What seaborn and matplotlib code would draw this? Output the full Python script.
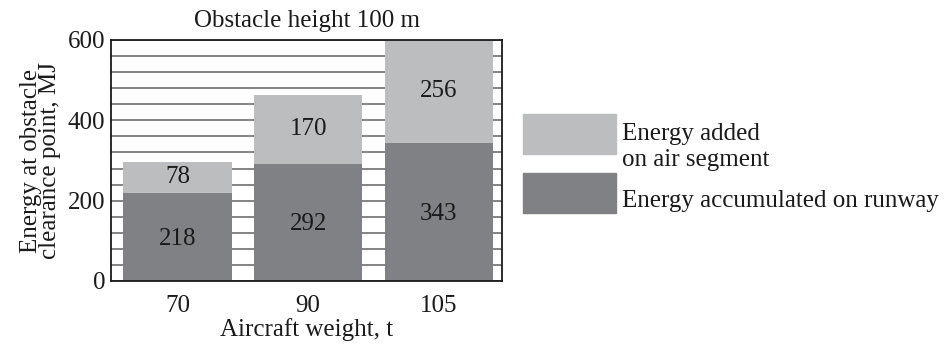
import matplotlib
matplotlib.use("Agg")
import matplotlib.pyplot as plt
import matplotlib.patches as mpatches
from matplotlib.legend_handler import HandlerPatch
import seaborn as sns
import pandas as pd

# --- Data ---
weights = ["70", "90", "105"]
runway_energy = [218, 292, 343]
air_energy = [78, 170, 256]

df = pd.DataFrame({"weight": weights, "runway": runway_energy, "air": air_energy})
df["total"] = df["runway"] + df["air"]

light = "#bcbdbf"
dark = "#808184"
ink = "#1a1a1a"
fs = 18

sns.set_style("white")
plt.rcParams["font.family"] = "Liberation Serif"

fig = plt.figure(figsize=(9.46, 3.46), dpi=100)
ax = fig.add_axes([0.1173, 0.1879, 0.4134, 0.6965])

# gridlines every 40 MJ behind bars
ax.set_axisbelow(True)
ax.yaxis.set_minor_locator(plt.MultipleLocator(40))
ax.grid(axis="y", which="both", color="#7a7a7a", linewidth=1.3)

sns.barplot(data=df, x="weight", y="total", color=light, width=0.83,
            saturation=1, linewidth=0, ax=ax, order=weights)
sns.barplot(data=df, x="weight", y="runway", color=dark, width=0.83,
            saturation=1, linewidth=0, ax=ax, order=weights)

# --- Value labels ---
for i, row in df.iterrows():
    ax.text(i, row["runway"] / 2 - 4, str(row["runway"]), ha="center", va="center",
            fontsize=fs, color=ink)
    ax.text(i, row["runway"] + row["air"] / 2 + 2, str(row["air"]), ha="center",
            va="center", fontsize=fs, color=ink)

ax.set_ylim(0, 600)
ax.set_xlim(-0.51, 2.485)
ax.set_yticks([0, 200, 400, 600])
ax.tick_params(axis="y", which="both", length=0, labelsize=fs, colors=ink, pad=4)
ax.tick_params(axis="x", which="both", length=0, labelsize=fs, colors=ink, pad=10)
ax.set_xlabel("Aircraft weight, t", fontsize=fs, color=ink, labelpad=1)
ax.set_ylabel("Energy at obstacle\nclearance point, MJ", fontsize=fs, color=ink,
              labelpad=5, linespacing=0.85)
ax.set_title("Obstacle height 100 m", fontsize=fs, color=ink, pad=9)

for s in ax.spines.values():
    s.set_visible(True)
    s.set_color(ink)
    s.set_linewidth(1.3)


# --- Legend: big swatches, offset against their text ---
def box_handler(y0):
    def make(legend, orig_handle, xdescent, ydescent, width, height, fontsize):
        return mpatches.Rectangle((-xdescent, y0), width, 28.8)
    return HandlerPatch(patch_func=make)


air_patch = mpatches.Patch(color=light, label="Energy added\non air segment")
run_patch = mpatches.Patch(color=dark, label="Energy accumulated on runway")
leg = fig.legend(handles=[air_patch, run_patch], loc="upper left",
                 bbox_to_anchor=(0.5529, 0.645),
                 frameon=False, fontsize=fs, handlelength=3.72, handleheight=0.7,
                 handletextpad=0.24, labelspacing=0.72, borderpad=0, borderaxespad=0,
                 labelcolor=ink,
                 handler_map={air_patch: box_handler(1.1), run_patch: box_handler(-4.3)})
for t in leg.get_texts():
    t.set_linespacing(1.25)

plt.savefig("out.png", dpi=100)
